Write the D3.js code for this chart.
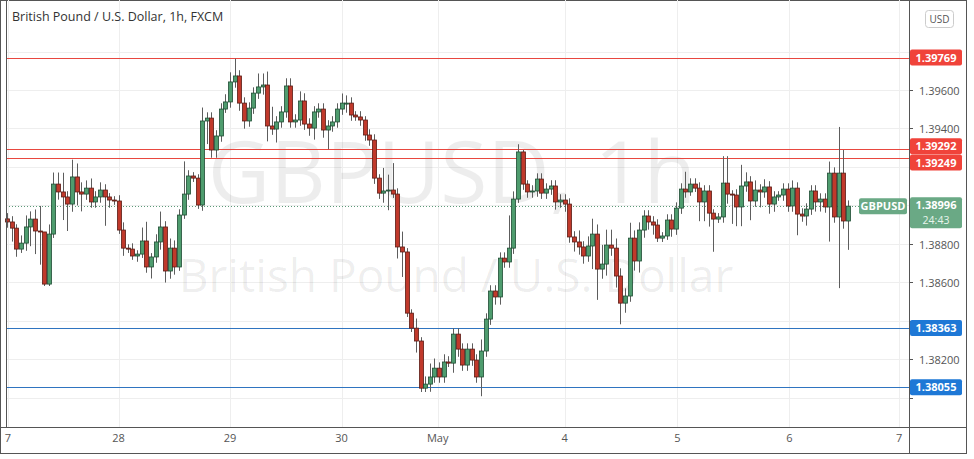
<!DOCTYPE html>
<html><head><meta charset="utf-8">
<script src="https://cdn.jsdelivr.net/npm/d3@7"></script>
<style>body{margin:0;background:#fff}svg{display:block;font-family:"Open Sans","DejaVu Sans",sans-serif}</style>
</head><body><svg id="c" width="974" height="459"></svg>
<script>
const closes=[1.38914,1.38882,1.38773,1.38804,1.38888,1.38929,1.38867,1.38862,1.38591,1.38851,1.39111,1.39070,1.39044,1.39007,1.39148,1.39070,1.39059,1.39090,1.39018,1.39044,1.39080,1.39044,1.39028,1.39023,1.38872,1.38778,1.38773,1.38737,1.38747,1.38815,1.38680,1.38732,1.38810,1.38888,1.38659,1.38778,1.38680,1.38950,1.39059,1.39153,1.39142,1.39002,1.39439,1.39454,1.39288,1.39361,1.39501,1.39538,1.39642,1.39673,1.39532,1.39439,1.39506,1.39584,1.39616,1.39626,1.39413,1.39397,1.39434,1.39486,1.39621,1.39434,1.39444,1.39543,1.39423,1.39402,1.39486,1.39501,1.39392,1.39413,1.39434,1.39501,1.39532,1.39532,1.39470,1.39460,1.39444,1.39366,1.39340,1.39142,1.39064,1.39075,1.39080,1.39059,1.38784,1.38758,1.38440,1.38362,1.38295,1.38050,1.38071,1.38108,1.38154,1.38108,1.38186,1.38180,1.38331,1.38253,1.38170,1.38253,1.38196,1.38108,1.38243,1.38409,1.38555,1.38524,1.38726,1.38706,1.38778,1.39033,1.39278,1.39111,1.39070,1.39075,1.39137,1.39064,1.39085,1.39101,1.39018,1.39028,1.39007,1.38836,1.38810,1.38784,1.38737,1.38789,1.38851,1.38669,1.38695,1.38794,1.38778,1.38633,1.38492,1.38529,1.38830,1.38711,1.38872,1.38945,1.38914,1.38898,1.38830,1.38841,1.38924,1.38877,1.38986,1.39085,1.39070,1.39111,1.39090,1.39018,1.39075,1.38960,1.38929,1.38940,1.39116,1.39059,1.39054,1.38992,1.39101,1.39122,1.39023,1.39080,1.39070,1.39096,1.39007,1.39044,1.39054,1.39085,1.38997,1.39090,1.38955,1.38945,1.38981,1.39075,1.39018,1.39033,1.38992,1.39168,1.38940,1.39168,1.38919,1.38996];
const opens=[1.38930].concat(closes.slice(0,-1));
const wickUp=[3,3,2,4,6,4,5,13,0,5,6,6,10,3,9,7,5,4,5,3,4,3,2,2,3,4,2,3,2,7,10,2,4,8,3,5,4,3,17,3,2,2,7,3,3,3,3,4,5,9,3,3,3,3,7,6,7,10,3,3,4,4,3,5,4,3,3,3,3,3,3,3,5,4,3,2,3,2,3,3,2,12,8,14,3,8,2,2,5,2,4,7,5,3,4,3,3,3,3,3,3,3,6,3,3,3,3,3,17,4,4,1,2,3,3,3,3,3,3,3,3,3,3,6,3,5,8,5,10,8,8,5,4,4,8,4,4,3,3,3,3,2,3,3,3,3,9,3,3,3,3,3,2,2,14,14,2,3,11,5,3,5,3,4,3,3,2,3,3,4,3,3,3,3,3,3,3,6,3,24,12,3];
const wickDown=[3,7,4,2,4,10,12,17,1,1,2,4,12,14,4,7,9,3,3,3,3,15,4,2,2,4,2,2,3,2,3,6,3,4,6,4,4,2,2,3,2,2,3,12,4,4,3,2,3,3,4,4,3,3,3,4,8,3,7,3,3,3,3,3,3,4,6,3,4,10,3,3,3,5,3,2,3,3,3,3,3,5,10,2,6,13,2,2,6,2,2,4,3,3,3,2,5,4,3,3,3,3,10,3,3,4,4,3,3,3,2,3,3,3,3,3,3,3,4,3,4,3,5,4,4,3,12,16,5,6,4,6,11,5,3,5,6,4,4,5,2,2,2,4,3,3,3,2,2,10,10,7,17,2,3,5,15,10,10,3,10,3,8,3,5,4,2,3,3,3,11,3,5,3,5,5,3,18,3,37,4,15];
const priceTicks=[1.380,1.382,1.384,1.386,1.388,1.390,1.392,1.394,1.396,1.398];
const dayTicks=[{i:0.2,t:"7"},{i:24,t:"28"},{i:48,t:"29"},{i:72,t:"30"},{i:92.7,t:"May"},{i:120,t:"4"},{i:144.3,t:"5"},{i:168.4,t:"6"},{i:192,t:"7"}];
const levels=[{p:1.39769,c:"#e8473f",bg:"#f0433a",dy:0},{p:1.39292,c:"#e8473f",bg:"#f0433a",dy:-3},{p:1.39249,c:"#e8473f",bg:"#f0433a",dy:5},{p:1.38363,c:"#2f74c0",bg:"#1e78d6",dy:0},{p:1.38055,c:"#2f74c0",bg:"#1e78d6",dy:0}];
const lastPrice=1.38996;

const svg=d3.select("#c");
const L=6,R=909,B=427;
const x=d3.scaleLinear().domain([0,181]).range([7,848]);
const y=d3.scaleLinear().domain([1.37848,1.40068]).range([B,0]);
svg.append("rect").attr("x",0.5).attr("y",0.5).attr("width",966).attr("height",453).attr("fill","#fff").attr("stroke","#555");
const g=svg.append("g");
g.selectAll(".hg").data(priceTicks).join("line").attr("x1",L).attr("x2",R).attr("y1",d=>Math.round(y(d))+.5).attr("y2",d=>Math.round(y(d))+.5).attr("stroke","#eeeeee");
g.selectAll(".vg").data(dayTicks).join("line").attr("x1",d=>Math.round(x(d.i))+.5).attr("x2",d=>Math.round(x(d.i))+.5).attr("y1",0).attr("y2",B).attr("stroke","#eeeeee");
g.append("text").attr("x",452).attr("y",203).attr("text-anchor","middle").attr("font-size",86).attr("fill","#000").attr("fill-opacity",0.07).text("GBPUSD, 1h");
g.append("text").attr("x",456).attr("y",292).attr("text-anchor","middle").attr("font-size",46).attr("fill","#000").attr("fill-opacity",0.07).text("British Pound / U.S. Dollar");
g.selectAll(".lv").data(levels).join("line").attr("x1",L).attr("x2",R).attr("y1",d=>Math.round(y(d.p))+.5).attr("y2",d=>Math.round(y(d.p))+.5).attr("stroke",d=>d.c).attr("stroke-width",1);
g.append("line").attr("x1",L).attr("x2",R).attr("y1",Math.round(y(lastPrice))+.5).attr("y2",Math.round(y(lastPrice))+.5).attr("stroke","#5b9a78").attr("stroke-dasharray","1,2");
const data=closes.map((c,i)=>({i,o:opens[i],c,h:Math.max(opens[i],c)+wickUp[i]*0.0001,l:Math.min(opens[i],c)-wickDown[i]*0.0001}));
const cg=g.selectAll(".cd").data(data).join("g");
cg.append("line").attr("x1",d=>Math.round(x(d.i))+.5).attr("x2",d=>Math.round(x(d.i))+.5).attr("y1",d=>y(d.h)).attr("y2",d=>y(d.l)).attr("stroke","#5d5d5d");
cg.append("rect").attr("x",d=>Math.round(x(d.i))-1.5).attr("width",4).attr("y",d=>y(Math.max(d.o,d.c))).attr("height",d=>Math.max(1,Math.abs(y(d.o)-y(d.c))))
 .attr("fill",d=>d.c>=d.o?"#4e9c6e":"#c0392b").attr("stroke",d=>d.c>=d.o?"#1f4d33":"#5a1c15").attr("stroke-width",0.8);
svg.append("line").attr("x1",L+.5).attr("x2",L+.5).attr("y1",0).attr("y2",B).attr("stroke","#555");
svg.append("line").attr("x1",R+.5).attr("x2",R+.5).attr("y1",0).attr("y2",454).attr("stroke","#555");
svg.append("line").attr("x1",0).attr("x2",967).attr("y1",B+.5).attr("y2",B+.5).attr("stroke","#555");
const tagYs=levels.map(d=>y(d.p)+d.dy).concat([y(lastPrice)+5]);
svg.selectAll(".pt").data(priceTicks).join("g").each(function(d){
 const s=d3.select(this),yy=Math.round(y(d))+.5;
 s.append("line").attr("x1",R).attr("x2",R+4).attr("y1",yy).attr("y2",yy).attr("stroke","#555");
 if(tagYs.some(t=>Math.abs(t-yy)<14)) return;
 s.append("text").attr("x",919).attr("y",yy+4).attr("font-size",11).attr("fill","#555").text(d3.format(".5f")(d));
});
svg.selectAll(".dt").data(dayTicks).join("text").attr("x",d=>x(d.i)).attr("y",442).attr("text-anchor","middle").attr("font-size",11).attr("fill","#555").text(d=>d.t);
const lb=svg.selectAll(".lb").data(levels).join("g");
lb.append("rect").attr("x",910).attr("y",d=>y(d.p)+d.dy-8).attr("width",52).attr("height",16).attr("rx",2).attr("fill",d=>d.bg);
lb.append("text").attr("x",936).attr("y",d=>y(d.p)+d.dy+4).attr("text-anchor","middle").attr("font-size",11).attr("font-weight","bold").attr("fill","#fff").text(d=>d3.format(".5f")(d.p));
const ly=y(lastPrice);
svg.append("rect").attr("x",910).attr("y",ly-9).attr("width",52).attr("height",31).attr("rx",2).attr("fill","#6aa985");
svg.append("text").attr("x",936).attr("y",ly+3).attr("text-anchor","middle").attr("font-size",11).attr("font-weight","bold").attr("fill","#fff").text(d3.format(".5f")(lastPrice));
svg.append("text").attr("x",936).attr("y",ly+18).attr("text-anchor","middle").attr("font-size",10.5).attr("fill","#e8f4ec").text("24:43");
svg.append("rect").attr("x",859).attr("y",ly-8).attr("width",48).attr("height",16).attr("rx",2).attr("fill","#6aa985");
svg.append("text").attr("x",883).attr("y",ly+4).attr("text-anchor","middle").attr("font-size",11).attr("font-weight","bold").attr("fill","#fff").text("GBPUSD");
svg.append("rect").attr("x",925.5).attr("y",10.5).attr("width",28).attr("height",17).attr("rx",3).attr("fill","#fff").attr("stroke","#ccc");
svg.append("text").attr("x",939.5).attr("y",23).attr("text-anchor","middle").attr("font-size",10).attr("fill","#555").text("USD");
svg.append("text").attr("x",12).attr("y",21).attr("font-size",12.5).attr("fill","#333").text("British Pound / U.S. Dollar, 1h, FXCM");
</script></body></html>
